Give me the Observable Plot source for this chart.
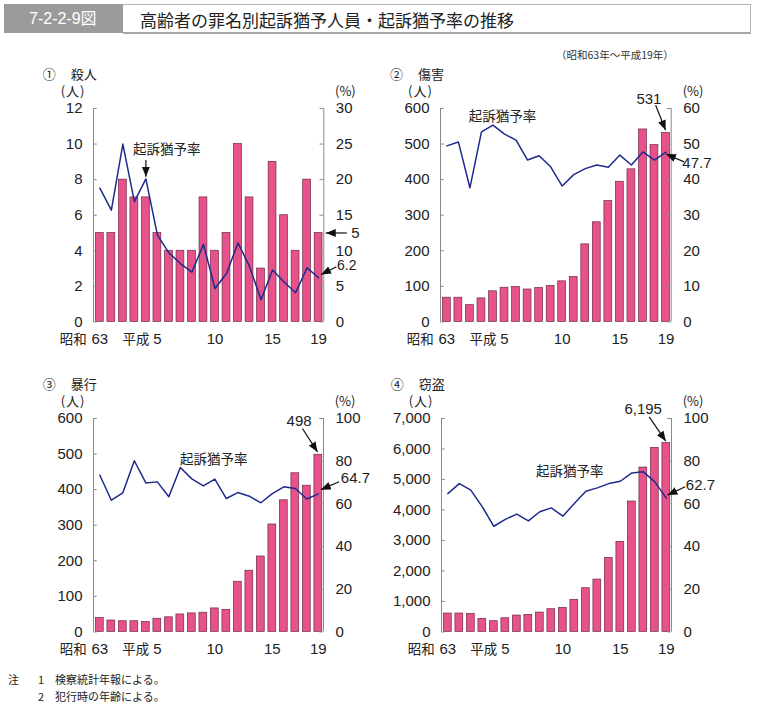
<!DOCTYPE html>
<html><head><meta charset="utf-8">
<script src="https://cdn.jsdelivr.net/npm/d3@7"></script>
<script src="https://cdn.jsdelivr.net/npm/@observablehq/plot@0.6"></script>
<style>
body{margin:0;background:#fff;}
#root{position:relative;width:758px;height:709px;overflow:hidden;font-family:"Noto Sans CJK JP",sans-serif;color:#222;}
.abs{position:absolute;white-space:nowrap;transform:translateY(-50%);line-height:1;}
.plot{position:absolute;}
</style></head><body><div id="root"></div>
<script>
// Years: index 0 = 昭和63, 1..19 = 平成元..平成19
const yearIndex = [0,1,2,3,4,5,6,7,8,9,10,11,12,13,14,15,16,17,18,19];
const xTicks = [0,5,10,15,19];
const xTickText = ["63","5","10","15","19"];
const eraLabels = [{i:0,t:"昭和",shift:-13},{i:5,t:"平成",shift:-8}];

// ① 殺人
const murderCount = [5,5,8,7,7,5,4,4,4,7,4,5,10,7,3,9,6,4,8,5];
const murderRate  = [18.8,15.7,25.0,16.9,20.1,12.2,9.7,8.2,7.0,10.9,4.7,6.8,11.1,7.8,3.1,7.3,5.6,4.1,7.6,6.2];
// ② 傷害
const injuryCount = [68,68,47,66,86,96,98,91,95,101,114,126,218,280,340,394,429,541,497,531];
const injuryRate  = [49.5,50.6,37.7,53.4,55.3,52.8,51.1,45.5,46.7,43.6,38.2,41.4,43.1,44.1,43.5,46.9,44.1,47.8,45.5,47.7];
// ③ 暴行
const assaultCount = [39,32,30,30,28,37,41,49,52,54,66,62,141,172,212,302,370,446,411,498];
const assaultRate  = [73.4,61.7,65.2,80.2,69.8,70.3,63.3,77.0,71.7,68.4,71.6,62.5,65.3,63.6,60.5,64.8,68.0,67.2,62.3,64.7];
// ④ 窃盗
const theftCount = [602,602,590,427,350,448,536,558,634,744,787,1050,1433,1717,2428,2953,4277,5392,6037,6195];
const theftRate  = [64.8,69.5,66.4,58.6,49.5,52.7,55.2,52.0,56.3,58.1,54.2,60.2,65.9,67.5,69.5,70.6,74.5,75.0,70.3,62.7];

const panelNames = ["①","②","③","④"];
const panelTitles = ["殺人","傷害","暴行","窃盗"];
const countTicks = [[0,2,4,6,8,10,12],[0,100,200,300,400,500,600],[0,100,200,300,400,500,600],[0,1000,2000,3000,4000,5000,6000,7000]];
const rateTicks = [[0,5,10,15,20,25,30],[0,10,20,30,40,50,60],[0,20,40,60,80,100],[0,20,40,60,80,100]];
const lineLabel = "起訴猶予率";

// annotations (x in year index, y in count units)
const rateLabelPos = [[5.81,9.66],[4.83,576],[9.91,485],[10.61,5250]];
const countNote = [
  {text:"5", tx:22.2, ty:5, x1:21.45, y1:5, x2:19.62, y2:5},
  {text:"531", tx:17.52, ty:625, x1:18.1, y1:609, x2:18.97, y2:539},
  {text:"498", tx:17.33, ty:593, x1:17.62, y1:572, x2:18.93, y2:506},
  {text:"6,195", tx:16.99, ty:7295, x1:17.51, y1:7054, x2:18.96, y2:6256}
];
const rateNote = [
  {text:"6.2", tx:20.6, ty:3.15, x1:20.55, y1:3.1, x2:19.22, y2:2.66},
  {text:"47.7", tx:20.42, ty:445, x1:20.56, y1:450, x2:19.0, y2:472},
  {text:"64.7", tx:20.96, ty:431, x1:20.81, y1:422, x2:19.22, y2:400},
  {text:"62.7", tx:20.70, ty:4812, x1:20.64, y1:4760, x2:19.1, y2:4487}
];
const rateArrow1 = {x1:4, y1:9.1, x2:4, y2:8.16};

const counts = [murderCount, injuryCount, assaultCount, theftCount];
const rates = [murderRate, injuryRate, assaultRate, theftRate];
const frames = [
  {L:92.7,R:323,T:108.3,B:321.7},
  {L:440,R:670.7,T:108.3,B:321.7},
  {L:92.7,R:322.7,T:418.3,B:631.7},
  {L:440.7,R:670.7,T:418.3,B:631.7}
];

const root = document.getElementById("root");
function addDiv(html, x, y, css) {
  const d = document.createElement("div");
  d.className = "abs";
  d.innerHTML = html;
  d.style.left = x + "px";
  d.style.top = y + "px";
  Object.assign(d.style, css || {});
  root.appendChild(d);
  return d;
}

// Title bar
const tb = document.createElement("div");
Object.assign(tb.style,{position:"absolute",left:"4px",top:"4px",width:"119px",height:"29px",background:"#9b9b9b"});
root.appendChild(tb);
const tw = document.createElement("div");
Object.assign(tw.style,{position:"absolute",left:"123px",top:"4px",width:"627px",height:"27px",border:"1px solid #b5b5b5",borderBottom:"2px solid #a8a8a8",borderLeft:"none"});
root.appendChild(tw);
addDiv("7-2-2-9図", 29, 19, {color:"#fff",fontSize:"16px",fontFamily:'"Liberation Sans Narrow","Liberation Sans","Noto Sans CJK JP",sans-serif'});
addDiv("高齢者の罪名別起訴猶予人員・起訴猶予率の推移", 140, 19, {fontSize:"17px",color:"#222"});
addDiv("（昭和63年～平成19年）", 556, 55, {fontSize:"10.5px",color:"#333"});
addDiv("注", 8, 679, {fontSize:"11px"});
addDiv("1", 38, 679, {fontSize:"11px"});
addDiv("検察統計年報による。", 55, 679, {fontSize:"11px"});
addDiv("2", 38, 696, {fontSize:"11px"});
addDiv("犯行時の年齢による。", 55, 696, {fontSize:"11px"});

const numFont = '"Liberation Sans","Noto Sans CJK JP",sans-serif';
const cjkFont = '"Noto Sans CJK JP",sans-serif';
const x0 = -0.55, xN = 19.45;

frames.forEach((f, p) => {
  const cnt = counts[p], rt = rates[p];
  const yMax = countTicks[p][countTicks[p].length-1];
  const rMax = rateTicks[p][rateTicks[p].length-1];
  const k = yMax / rMax;
  const rows = yearIndex.map((i, j) => ({i, c: cnt[j], r: rt[j] * k}));
  const ml = 62, mr = 62, mt = 48, mb = 30;
  const fmt = p === 3 ? d3.format(",") : d3.format("d");
  const cn = countNote[p], rn = rateNote[p];
  const arrows = [
    {x1:cn.x1,y1:cn.y1,x2:cn.x2,y2:cn.y2},
    {x1:rn.x1,y1:rn.y1,x2:rn.x2,y2:rn.y2}
  ];
  if (p === 0) arrows.push({x1:rateArrow1.x1,y1:rateArrow1.y1,x2:rateArrow1.x2,y2:rateArrow1.y2});
  const tickLen = 0.33;
  const svg = Plot.plot({
    width: f.R - f.L + ml + mr,
    height: f.B - f.T + mt + mb,
    marginLeft: ml, marginRight: mr, marginTop: mt, marginBottom: mb,
    x: {domain: [x0, xN], axis: null},
    y: {domain: [0, yMax], axis: null},
    style: {fontFamily: numFont, fontSize: "15px", color: "#222", background: "transparent", overflow: "visible"},
    marks: [
      Plot.rect(rows, {x1: d => d.i - 0.34, x2: d => d.i + 0.34, y1: 0, y2: "c", fill: "#e8528b", stroke: "#6e2a45", strokeWidth: 0.7}),
      Plot.line(rows, {x: "i", y: "r", stroke: "#1e2a8c", strokeWidth: 1.5}),
      Plot.ruleX([x0], {y1: 0, y2: yMax, stroke: "#8a8a8a", strokeWidth: 1}),
      Plot.ruleX([xN], {y1: 0, y2: yMax, stroke: "#8a8a8a", strokeWidth: 1}),
      Plot.ruleY(countTicks[p], {x1: x0, x2: x0 + tickLen, stroke: "#8a8a8a"}),
      Plot.ruleY(rateTicks[p].map(t => t * k), {x1: xN - tickLen, x2: xN, stroke: "#8a8a8a"}),
      Plot.axisY({anchor: "left", ticks: countTicks[p], tickSize: 0, tickPadding: 11, tickFormat: fmt, fontSize: 15}),
      Plot.axisY({anchor: "right", ticks: rateTicks[p].map(t => t * k), tickSize: 0, tickPadding: 12, tickFormat: v => String(Math.round(v / k)), fontSize: 15}),
      Plot.axisX({ticks: xTicks, tickSize: 0, tickPadding: 11, tickFormat: (v) => xTickText[xTicks.indexOf(v)], fontSize: 15}),
      Plot.text([eraLabels[0]], {x: "i", y: () => 0, text: "t", dy: 18, dx: eraLabels[0].shift, textAnchor: "end", fontSize: 13.5, fontFamily: cjkFont}),
      Plot.text([eraLabels[1]], {x: "i", y: () => 0, text: "t", dy: 18, dx: eraLabels[1].shift, textAnchor: "end", fontSize: 13.5, fontFamily: cjkFont}),
      Plot.text([{x: rateLabelPos[p][0], y: rateLabelPos[p][1]}], {x: "x", y: "y", text: () => lineLabel, fontSize: 13.5, fontFamily: cjkFont}),
      Plot.text([cn], {x: "tx", y: "ty", text: "text", textAnchor: "middle", fontSize: 15}),
      Plot.text([rn], {x: "tx", y: "ty", text: "text", textAnchor: "start", fontSize: p === 0 ? 14 : 15}),
      Plot.link(arrows, {x1: "x1", y1: "y1", x2: "x2", y2: "y2", stroke: "#111", strokeWidth: 1.2})
    ]
  });
  // filled arrow heads
  const ns = "http://www.w3.org/2000/svg";
  const defs = document.createElementNS(ns, "defs");
  const id = "ah" + p;
  defs.innerHTML = `<marker id="${id}" viewBox="0 0 10 8" refX="10" refY="4" markerWidth="10" markerHeight="8" markerUnits="userSpaceOnUse" orient="auto"><path d="M0,0L10,4L0,8Z" fill="#111"/></marker>`;
  svg.prepend(defs);
  svg.querySelectorAll('g[aria-label="link"] path').forEach(el => el.setAttribute("marker-end", `url(#${id})`));
  svg.classList.add("plot");
  svg.style.left = (f.L - ml) + "px";
  svg.style.top = (f.T - mt) + "px";
  svg.style.position = "absolute";
  root.appendChild(svg);

  // panel title and units
  addDiv(panelNames[p], f.L - 50, f.T - 35, {fontSize: "13px"});
  addDiv(panelTitles[p], f.L - 22, f.T - 35, {fontSize: "13px"});
  addDiv("(人)", f.L - 32, f.T - 18, {fontSize: "13px", letterSpacing: "1px"});
  addDiv("(%)", f.R + 12, f.T - 18, {fontSize: "13px"});
});
</script>
</body></html>
